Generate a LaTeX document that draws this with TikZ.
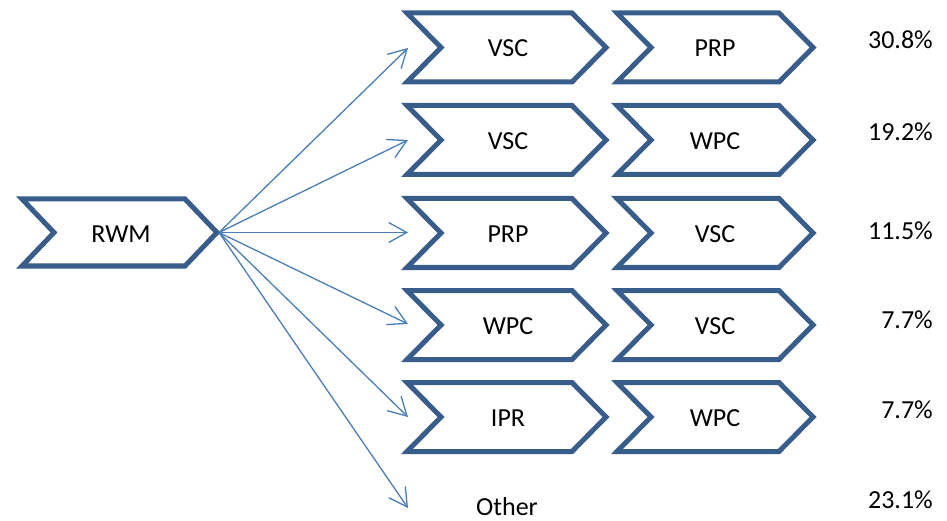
\documentclass[tikz,border=0pt]{standalone}
\usepackage{fontspec}
\setmainfont{Carlito}
\usetikzlibrary{arrows.meta}
\definecolor{chevblue}{HTML}{385D8A}
\definecolor{arrblue}{HTML}{4A7EBB}
\tikzset{
  chevline/.style={draw=chevblue, line width=5pt, miter limit=10, line join=miter},
  lbl/.style={font=\fontsize{26}{30}\selectfont, text height=17pt, text depth=0pt, inner sep=0pt},
  pct/.style={lbl, anchor=east},
  conn/.style={draw=arrblue, line width=1.3pt, -{Straight Barb[length=18pt,width=20pt,line width=1.3pt]}},
}
% cx, cy, half width, half height, point depth
\newcommand\chevpath[5]{%
  \draw[chevline] ({#1-#3},{#2-#4}) -- ({#1+#3-#5},{#2-#4}) -- ({#1+#3},#2)
    -- ({#1+#3-#5},{#2+#4}) -- ({#1-#3},{#2+#4}) -- ({#1-#3+#5},#2) -- cycle;}
\begin{document}
\begin{tikzpicture}[x=1pt,y=-1pt]
\useasboundingbox (0,0) rectangle (947,521);
% source chevron
\chevpath{119.5}{232.5}{97.5}{33.5}{32}
\node[lbl] (rwm) at (121,234) {RWM};
\coordinate (src) at (219,232.5);
% rows
\chevpath{506.5}{47.5}{99.5}{34.5}{34}
\chevpath{715}{47.5}{98}{34.5}{34}
\chevpath{506.5}{140}{99.5}{34.5}{34}
\chevpath{715}{140}{98}{34.5}{34}
\chevpath{506.5}{233}{99.5}{34.5}{34}
\chevpath{715}{233}{98}{34.5}{34}
\chevpath{506.5}{325}{99.5}{34.5}{34}
\chevpath{715}{325}{98}{34.5}{34}
\chevpath{506.5}{417}{99.5}{34.5}{34}
\chevpath{715}{417}{98}{34.5}{34}
\node[lbl] (a1) at (508,48.5) {VSC};
\node[lbl] (b1) at (715,48.5) {PRP};
\node[lbl] (a2) at (508,141) {VSC};
\node[lbl] (b2) at (715,141) {WPC};
\node[lbl] (a3) at (508,234) {PRP};
\node[lbl] (b3) at (715,234) {VSC};
\node[lbl] (a4) at (508,326) {WPC};
\node[lbl] (b4) at (715,326) {VSC};
\node[lbl] (a5) at (508,418) {IPR};
\node[lbl] (b5) at (715,418) {WPC};
\node[lbl] (oth) at (507,506.5) {Other};
% percentages
\node[pct] (p1) at (933,40) {30.8\%};
\node[pct] (p2) at (933,132.5) {19.2\%};
\node[pct] (p3) at (933,231.5) {11.5\%};
\node[pct] (p4) at (933,320) {7.7\%};
\node[pct] (p5) at (933,410) {7.7\%};
\node[pct] (p6) at (933,500) {23.1\%};
% arrow targets
\coordinate (t1) at (408,48);
\coordinate (t2) at (408,140);
\coordinate (t3) at (408,232.5);
\coordinate (t4) at (408,324);
\coordinate (t5) at (408,417);
\coordinate (t6) at (408,508);
\foreach \i in {1,...,6} \draw[conn] (src) -- (t\i);
\end{tikzpicture}
\end{document}
